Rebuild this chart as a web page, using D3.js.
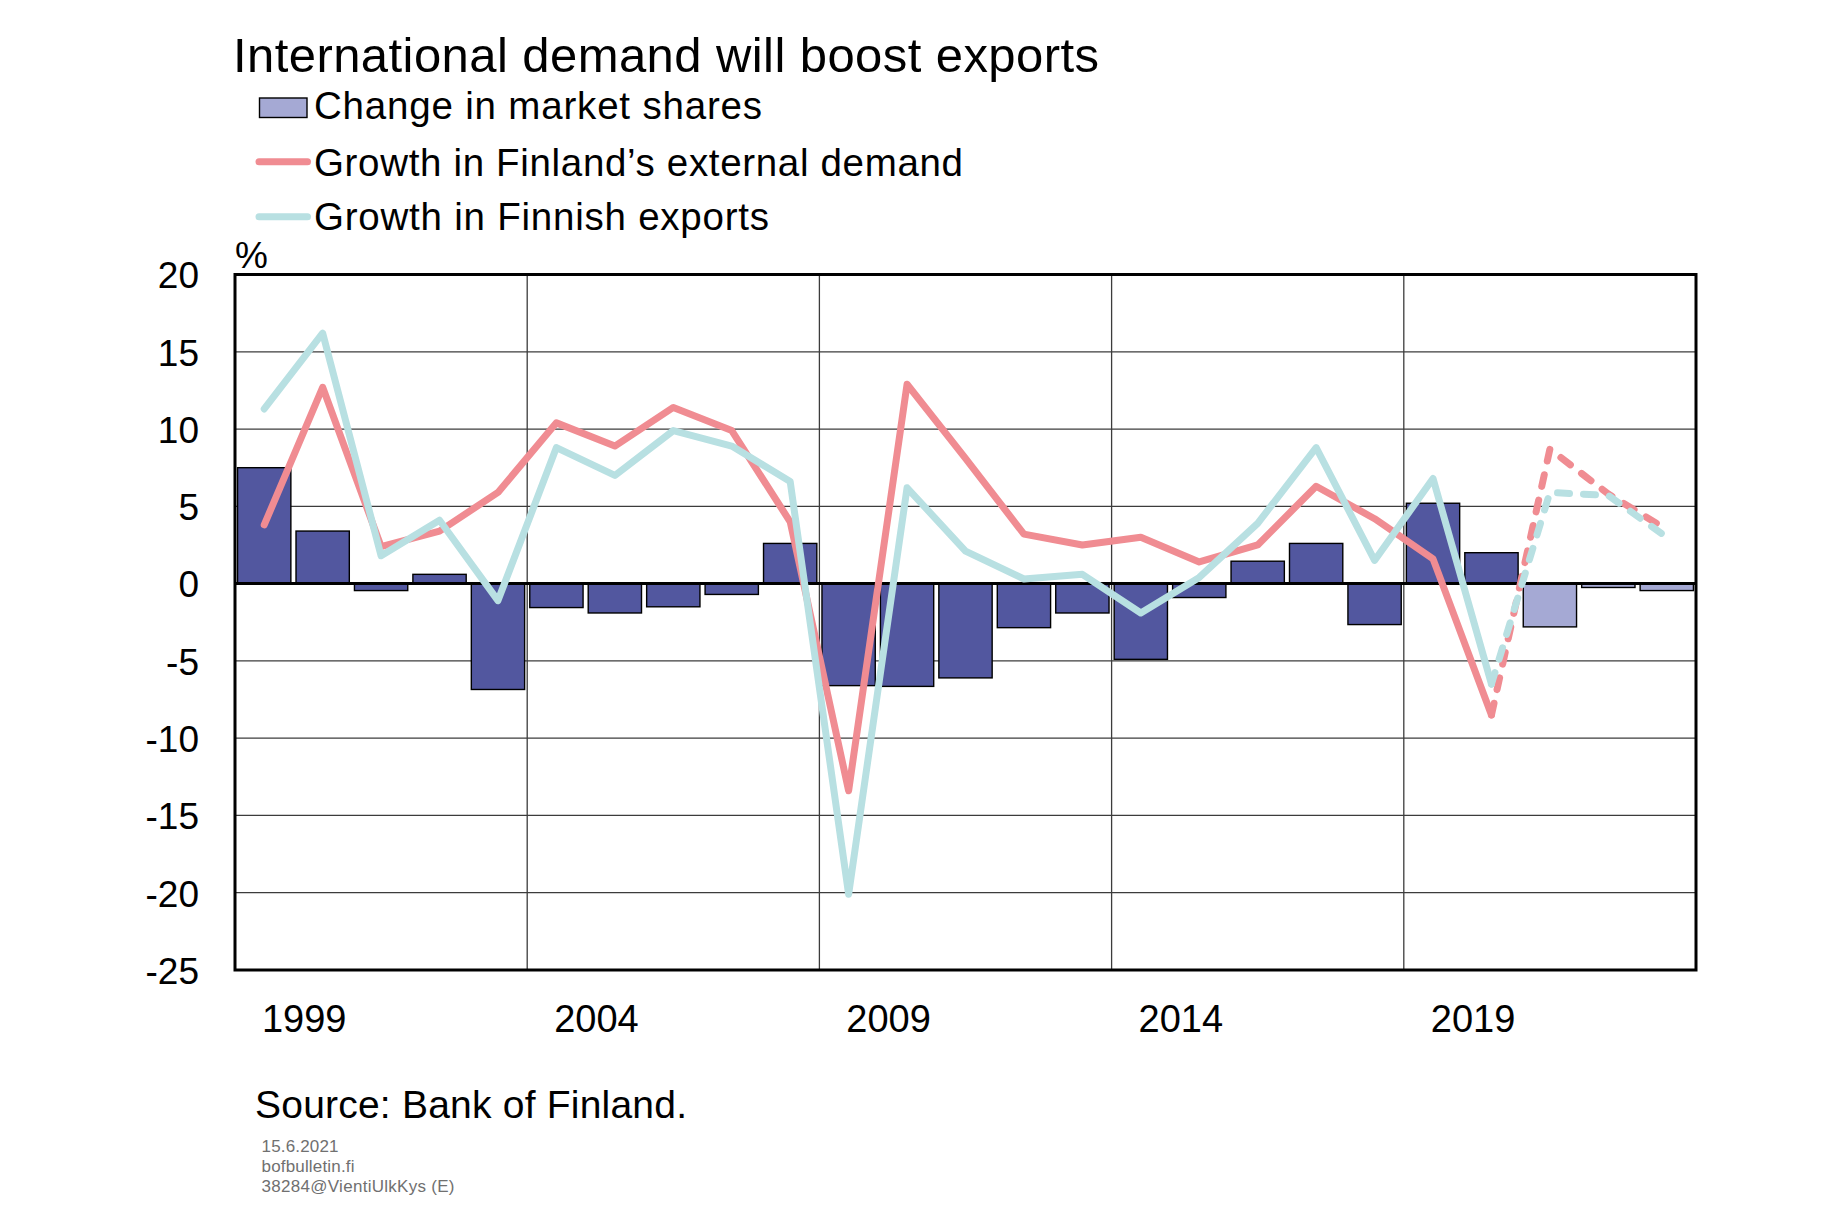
<!DOCTYPE html>
<html>
<head>
<meta charset="utf-8">
<script src="https://cdn.jsdelivr.net/npm/d3@7/dist/d3.min.js"></script>
<style>
  html, body { margin: 0; padding: 0; background: #ffffff; }
  svg { display: block; font-family: "Liberation Sans", Arial, sans-serif; }
</style>
</head>
<body>
<svg id="chart" width="1845" height="1205"></svg>
<script>
// ---------- data ----------
const years = ["1999","2000","2001","2002","2003","2004","2005","2006","2007","2008","2009","2010","2011","2012","2013","2014","2015","2016","2017","2018","2019","2020","2021","2022","2023"];
const marketShares   = [7.5, 3.4, -0.45, 0.6, -6.85, -1.55, -1.9, -1.5, -0.7, 2.6, -6.6, -6.65, -6.1, -2.85, -1.9, -4.9, -0.9, 1.45, 2.6, -2.65, 5.2, 2.0, -2.8, -0.25, -0.45];
const externalDemand = [3.8, 12.7, 2.4, 3.4, 5.9, 10.4, 8.9, 11.4, 9.9, 4.0, -13.4, 12.9, 8.1, 3.2, 2.5, 3.0, 1.4, 2.5, 6.3, 4.2, 1.6, -8.5, 8.7, 5.8, 3.5];
const finnishExports = [11.3, 16.2, 1.8, 4.1, -1.1, 8.8, 7.0, 9.9, 8.9, 6.6, -20.1, 6.2, 2.1, 0.3, 0.6, -1.9, 0.4, 3.9, 8.8, 1.5, 6.8, -6.5, 5.9, 5.7, 3.0];
const firstForecastYear = "2021";
const xTickLabels = ["1999","2004","2009","2014","2019"];
const yTicks = [20, 15, 10, 5, 0, -5, -10, -15, -20, -25];
const seriesNames = ["Change in market shares", "Growth in Finland\u2019s external demand", "Growth in Finnish exports"];
const titleText = "International demand will boost exports";
const unitText = "%";
const sourceText = "Source: Bank of Finland.";
const footerLines = ["15.6.2021", "bofbulletin.fi", "38284@VientiUlkKys (E)"];

// ---------- layout ----------
const C = {
  bar: "#52579F", barForecast: "#A5A9D4",
  red: "#F08C92", teal: "#B8E0E2",
  grid: "#3c3c3c", footer: "#707070"
};
const plot = { left: 235, right: 1696, top: 274.5, bottom: 970 };

const svg = d3.select("#chart");

const x = d3.scaleBand().domain(years).range([plot.left, plot.right])
  .paddingInner(0.088).paddingOuter(0.044);
const step = x.step();
const cx = d => x(d) + x.bandwidth() / 2;
const boundary = d => plot.left + years.indexOf(d) * step;
const y = d3.scaleLinear().domain([-25, 20]).range([plot.bottom, plot.top]);

// ---------- gridlines ----------
const g = svg.append("g");
g.append("g").selectAll("line").data(yTicks.filter(t => t !== 20 && t !== -25 && t !== 0)).join("line")
  .attr("x1", plot.left).attr("x2", plot.right)
  .attr("y1", d => y(d)).attr("y2", d => y(d))
  .attr("stroke", C.grid).attr("stroke-width", 1.3);
g.append("g").selectAll("line").data(xTickLabels.slice(1)).join("line")
  .attr("x1", d => boundary(d)).attr("x2", d => boundary(d))
  .attr("y1", plot.top).attr("y2", plot.bottom)
  .attr("stroke", C.grid).attr("stroke-width", 1.3);

// ---------- bars ----------
const fcIdx = years.indexOf(firstForecastYear);
g.append("g").selectAll("rect").data(years).join("rect")
  .attr("x", d => x(d))
  .attr("width", x.bandwidth())
  .attr("y", (d, i) => y(Math.max(0, marketShares[i])))
  .attr("height", (d, i) => Math.abs(y(marketShares[i]) - y(0)))
  .attr("fill", (d, i) => i >= fcIdx ? C.barForecast : C.bar)
  .attr("stroke", "#000").attr("stroke-width", 1.4);

// zero line
g.append("line").attr("x1", plot.left).attr("x2", plot.right)
  .attr("y1", y(0)).attr("y2", y(0)).attr("stroke", "#000").attr("stroke-width", 3);

// ---------- lines ----------
function drawSeries(vals, color) {
  const pts = years.map((d, i) => [cx(d), y(vals[i])]);
  const line = d3.line();
  const solid = pts.slice(0, fcIdx);
  const dashed = pts.slice(fcIdx - 1);
  g.append("path").attr("d", line(solid)).attr("fill", "none")
    .attr("stroke", color).attr("stroke-width", 7)
    .attr("stroke-linejoin", "round").attr("stroke-linecap", "round");
  g.append("path").attr("d", line(dashed)).attr("fill", "none")
    .attr("stroke", color).attr("stroke-width", 7)
    .attr("stroke-dasharray", "12,14")
    .attr("stroke-linejoin", "round").attr("stroke-linecap", "round");
}
drawSeries(externalDemand, C.red);
drawSeries(finnishExports, C.teal);

// ---------- frame ----------
g.append("rect").attr("x", plot.left).attr("y", plot.top)
  .attr("width", plot.right - plot.left).attr("height", plot.bottom - plot.top)
  .attr("fill", "none").attr("stroke", "#000").attr("stroke-width", 3);

// ---------- axes labels ----------
const yAxis = d3.axisLeft(y).tickValues(yTicks).tickSize(0).tickPadding(0).tickFormat(d => String(d));
const ya = svg.append("g").attr("transform", `translate(199,0)`).call(yAxis);
ya.select(".domain").remove();
ya.selectAll("text").attr("font-size", 37).attr("fill", "#000")
  .attr("font-family", "'Liberation Sans', Arial, sans-serif")
  .attr("dy", "0.36em");

const xAxis = d3.axisBottom(x).tickValues(xTickLabels).tickSize(0).tickPadding(0);
const xa = svg.append("g").attr("transform", `translate(40,0)`).call(xAxis);
xa.select(".domain").remove();
xa.selectAll("text").attr("font-size", 38).attr("fill", "#000")
  .attr("font-family", "'Liberation Sans', Arial, sans-serif")
  .attr("y", 1031.5).attr("dy", 0);

svg.append("text").attr("x", 235).attr("y", 268).attr("font-size", 37).text(unitText);

// ---------- title & legend ----------
svg.append("text").attr("x", 233).attr("y", 71.5).attr("font-size", 49)
  .attr("textLength", 866).attr("lengthAdjust", "spacing").text(titleText);

const lg = svg.append("g");
lg.append("rect").attr("x", 259.5).attr("y", 98).attr("width", 47.5).attr("height", 19.5)
  .attr("fill", C.barForecast).attr("stroke", "#000").attr("stroke-width", 1.4);
lg.append("line").attr("x1", 259).attr("x2", 307.5).attr("y1", 161.7).attr("y2", 161.7)
  .attr("stroke", C.red).attr("stroke-width", 7).attr("stroke-linecap", "round");
lg.append("line").attr("x1", 259).attr("x2", 307.5).attr("y1", 216.7).attr("y2", 216.7)
  .attr("stroke", C.teal).attr("stroke-width", 7).attr("stroke-linecap", "round");
const legendBase = [119.3, 176, 229.5];
const legendLen = [448, 649, 455];
lg.selectAll("text.leg").data(seriesNames).join("text").attr("class", "leg")
  .attr("x", 314).attr("y", (d, i) => legendBase[i]).attr("font-size", 38.5)
  .attr("textLength", (d, i) => legendLen[i]).attr("lengthAdjust", "spacing")
  .text(d => d);

// ---------- source & footer ----------
svg.append("text").attr("x", 255).attr("y", 1118.3).attr("font-size", 39)
  .attr("textLength", 432).attr("lengthAdjust", "spacing").text(sourceText);
const footerLen = [77, 93, 193];
svg.append("g").selectAll("text").data(footerLines).join("text")
  .attr("x", 261.5).attr("y", (d, i) => 1151.7 + i * 20).attr("font-size", 17)
  .attr("textLength", (d, i) => footerLen[i]).attr("lengthAdjust", "spacing")
  .attr("fill", C.footer).text(d => d);
</script>
</body>
</html>
